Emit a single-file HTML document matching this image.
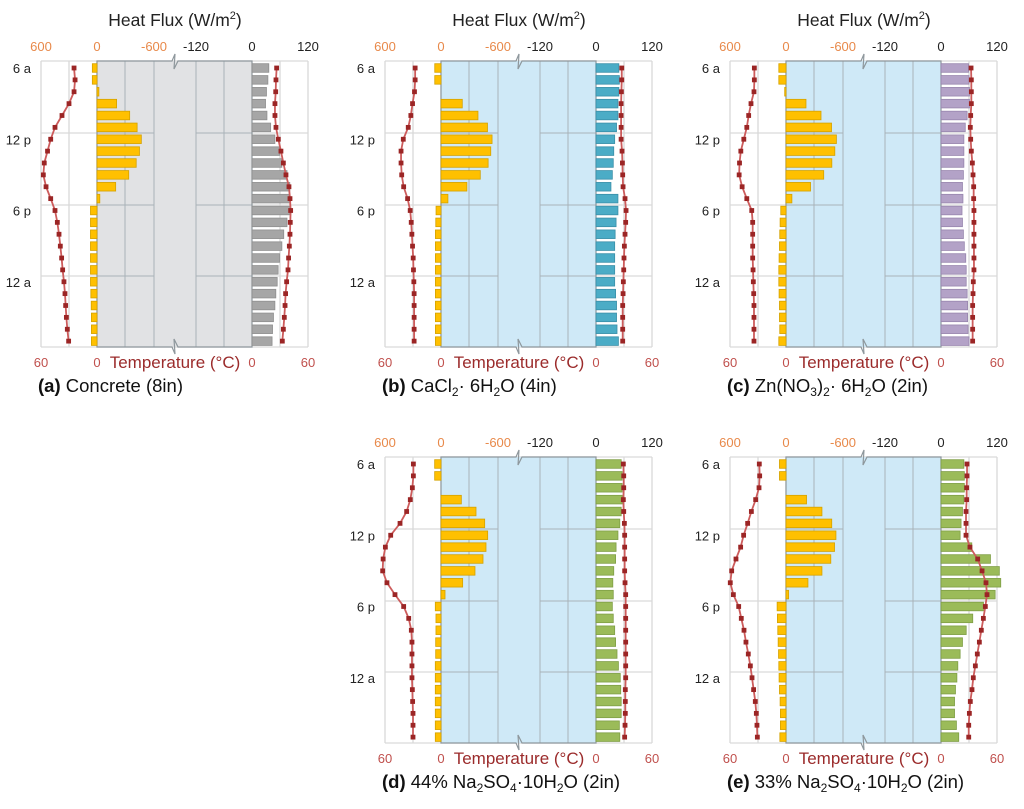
<!DOCTYPE html>
<html><head><meta charset="utf-8"><style>
html,body{margin:0;padding:0;background:#fff;}
svg{display:block;font-family:"Liberation Sans",sans-serif;}
</style></head><body>
<svg id="chart" width="1024" height="809" viewBox="0 0 1024 809" xmlns="http://www.w3.org/2000/svg"></svg>
<script>
const hourLabels = ['6 a','','','','','','12 p','','','','','','6 p','','','','','','12 a','','','','',''];
const topTickFlux = ['600','0','-600','-120','0','120'];
const bottomTickTemp = ['60','0','0','60'];
// (a) Concrete
const outerFluxA = [50,50,-20,-210,-350,-430,-475,-455,-420,-340,-200,-30,70,70,70,70,70,70,70,66,62,60,60,60];
const innerFluxA = [36,34,31,29,32,40,49,59,64,75,81,81,82,75,68,64,59,56,54,51,49,46,44,43];
const outerTempA = [24.6,23.5,24.6,30,37.5,45,49.6,53,56.5,57.5,54.6,49.6,45,42.5,40.7,39.3,37.9,36.8,35.4,34.3,33.6,32.8,31.8,30.4];
const innerTempA = [26.4,25.7,25.4,24.6,24.6,25.7,28.2,31,33.6,36.4,39.6,40.7,41.4,41,40.7,40,39.2,38.6,37.1,36,35.4,34.6,33.6,32.5];
// (b) CaCl2
const outerFluxB = [67,67,0,-228,-396,-498,-547,-533,-505,-421,-277,-74,53,56,60,60,60,60,60,60,60,60,60,60];
const innerFluxB = [49,50,49,47,47,44,40,38,37,35,32,47,47,43,41,40,40,40,40,42,44,44,45,48];
const outerTempB = [27.7,27.7,28.4,30.5,32.3,35.1,40.4,42.8,42.8,42.1,40,35.8,33,31.9,31.2,30.5,29.8,29.5,29.1,28.8,28.8,28.8,28.8,28.8];
const innerTempB = [27.6,27.6,27.2,26.9,26.9,26.9,26.9,27.9,28.3,28.6,29,31.1,32.2,31.8,31.1,30.4,30,29.7,29.3,29,28.6,28.6,28.6,28.6];
// (c) Zn(NO3)2
const outerFluxC = [77,77,14,-214,-375,-488,-540,-523,-491,-404,-263,-63,56,63,67,70,74,77,77,74,70,70,67,77];
const innerFluxC = [59,60,61,61,56,52,49,49,49,48,46,47,45,46,48,50,53,54,54,56,57,57,58,60];
const outerTempC = [33.9,33.9,34.3,37.5,40,42,45.2,48.4,49.8,50.2,47,42,36.7,35.7,35.7,35.7,35.7,35.3,35,34.6,34.3,34.3,34.3,34.3];
const innerTempC = [32.2,32.5,32.5,32.5,31.8,31.4,31.8,32.5,33.6,34.3,35,35,35.3,35.3,35.3,35.3,35.3,35.3,34.6,34.3,33.9,33.9,33.9,33.9];
// (d) 44% Na2SO4
const outerFluxD = [68,68,0,-218,-375,-468,-500,-482,-450,-364,-232,-43,61,54,54,57,57,61,61,61,61,61,61,61];
const innerFluxD = [54,56,56,56,54,51,47,43,42,38,36,37,35,37,40,42,45,48,52,53,54,54,50,51];
const outerTempD = [29.6,29.6,30.7,32.9,36.8,43.9,53.9,59.6,62,62.5,57.9,49.3,40,34.6,31.8,31.1,31.1,31.1,31.1,30.7,30.4,30,30,30];
const innerTempD = [29.3,29.7,29.7,29.3,29.7,30.4,30.7,30.7,30.7,30.7,31.1,31.8,31.8,31.8,31.8,31.8,31.8,31.8,31.8,31.4,31.4,31.4,31.1,30.7];
// (e) 33% Na2SO4
const outerFluxE = [70,70,0,-220,-385,-490,-535,-520,-480,-385,-235,-28,95,92,88,84,80,77,74,70,63,60,60,66];
const innerFluxE = [49,50,50,49,46,43,41,66,106,125,128,116,91,68,54,46,41,36,34,31,29,29,33,38];
const outerTempE = [28.6,28.2,28.9,32.5,37.1,41.1,45.4,48.6,53.6,58.2,59.7,56.4,50.7,47.9,45,42.9,40.4,38.2,36.4,34.7,32.9,31.8,31.1,30.7];
const innerTempE = [27.9,27.9,27.5,27.5,26.8,26.8,26.8,31,39.3,44,48.2,49.3,47.5,45.4,43.2,41.1,38.9,36.8,34.6,33.2,31.4,30.4,29.7,29.7];

const NS='http://www.w3.org/2000/svg';
const svg=document.getElementById('chart');
function mk(tag,attrs,parent){const e=document.createElementNS(NS,tag);for(const k in attrs)e.setAttribute(k,attrs[k]);(parent||svg).appendChild(e);return e;}

const panels=[
 {key:'a',dx:0,dy:0,bg:'#e1e2e4',bar:'#a6a6a6',barS:'#8f8f8f',of:outerFluxA,inf:innerFluxA,ot:outerTempA,it:innerTempA,cap:[['(a)',1],[' Concrete (8in)',0]]},
 {key:'b',dx:344,dy:0,bg:'#cfe9f7',bar:'#4bacc6',barS:'#3a8fa8',of:outerFluxB,inf:innerFluxB,ot:outerTempB,it:innerTempB,cap:[['(b)',1],[' CaCl',0],['2',2],['· 6H',0],['2',2],['O (4in)',0]]},
 {key:'c',dx:689,dy:0,bg:'#cfe9f7',bar:'#b3a2c7',barS:'#9785ad',of:outerFluxC,inf:innerFluxC,ot:outerTempC,it:innerTempC,cap:[['(c)',1],[' Zn(NO',0],['3',2],[')',0],['2',2],['· 6H',0],['2',2],['O (2in)',0]]},
 {key:'d',dx:344,dy:396,bg:'#cfe9f7',bar:'#9bbb59',barS:'#7f9e45',of:outerFluxD,inf:innerFluxD,ot:outerTempD,it:innerTempD,cap:[['(d)',1],[' 44% Na',0],['2',2],['SO',0],['4',2],['·10H',0],['2',2],['O (2in)',0]]},
 {key:'e',dx:689,dy:396,bg:'#cfe9f7',bar:'#9bbb59',barS:'#7f9e45',of:outerFluxE,inf:innerFluxE,ot:outerTempE,it:innerTempE,cap:[['(e)',1],[' 33% Na',0],['2',2],['SO',0],['4',2],['·10H',0],['2',2],['O (2in)',0]]}
];

const X0=41,XO0=97,XB=175,XI0=252,X1=308,Y0=61,Y1=347;
const fluxOuter=v=>XO0-v*56/600;
const fluxInner=v=>XI0+v*56/120;
const tempOuter=t=>XO0-t*56/60;
const tempInner=t=>XI0+t*56/60;
const rowY=i=>68+i*11.875;

panels.forEach(p=>{
  const g=mk('g',{transform:`translate(${p.dx},${p.dy})`});
  
  
  [X0,69,XO0,280,X1].forEach(x=>mk('line',{x1:x,y1:Y0,x2:x,y2:Y1,stroke:'#d9d9d9','stroke-width':1.3},g));
  [Y0,133,205,276,Y1].forEach(y=>mk('line',{x1:X0,y1:y,x2:X1,y2:y,stroke:'#d9d9d9','stroke-width':1.3},g));
  const wall=mk('rect',{x:XO0,y:Y0,width:XI0-XO0,height:Y1-Y0,fill:p.bg},g);
  
  
  [125,154,196,224].forEach(x=>mk('line',{x1:x,y1:Y0,x2:x,y2:Y1,stroke:'#a9b2b8','stroke-width':1},g));
  [133,205,276].forEach(y=>{mk('line',{x1:XO0,y1:y,x2:154,y2:y,stroke:'#a9b2b8','stroke-width':1},g);mk('line',{x1:196,y1:y,x2:XI0,y2:y,stroke:'#a9b2b8','stroke-width':1},g);});
  // border with break zigzags
  mk('path',{d:`M${XO0},${Y1} V${Y0} H${XB-3} L${XB},${Y0-7} L${XB-1},${Y0+8} L${XB+3},${Y0} H${XI0} V${Y1} H${XB+3} L${XB-1},${Y1-8} L${XB},${Y1+7} L${XB-3},${Y1} Z`,fill:'none',stroke:'#8e979c','stroke-width':1.2},g);
  hourLabels.forEach((h,i)=>{ if(!h) return;
    const t=mk('text',{x:31,y:rowY(i)+5,'text-anchor':'end','font-size':13,fill:'#222'},g);t.textContent=h;
    
    
  });
  p.of.forEach((v,i)=>{
    const x1=fluxOuter(v);const xa=Math.min(x1,XO0),w=Math.abs(x1-XO0);
    if(w<0.5) return;
    const r=mk('rect',{x:xa,y:rowY(i)-4.3,width:w,height:8.6,fill:'#ffc000',stroke:'#d4a200','stroke-width':0.8},g);
    
    
  });
  p.inf.forEach((v,i)=>{
    const x1=fluxInner(v);
    const r=mk('rect',{x:XI0,y:rowY(i)-4.3,width:Math.max(0,x1-XI0),height:8.6,fill:p.bar,stroke:p.barS,'stroke-width':0.8},g);
    
    
  });
  [[p.ot,tempOuter,'outer-temperature-line'],[p.it,tempInner,'inner-temperature-line']].forEach(([arr,f,name])=>{
    const pts=arr.map((t,i)=>[f(t),rowY(i)]);
    const pl=mk('polyline',{points:pts.map(q=>q.join(',')).join(' '),fill:'none',stroke:'#cd5c5c','stroke-width':1.8},g);
    
    
    pts.forEach(q=>{
      const m=mk('rect',{x:q[0]-2.4,y:q[1]-2.4,width:4.8,height:4.8,fill:'#9b2525'},g);
      
      
    });
  });
  const topX=[X0,XO0,154,196,XI0,X1];
  topTickFlux.forEach((s,i)=>{
    const t=mk('text',{x:topX[i],y:51,'text-anchor':'middle','font-size':13,fill:i<3?'#e8894a':'#222'},g);t.textContent=s;
    
    
  });
  const bX=[X0,XO0,XI0,X1];
  bottomTickTemp.forEach((s,i)=>{
    const t=mk('text',{x:bX[i],y:367,'text-anchor':'middle','font-size':13,fill:'#c0504d'},g);t.textContent=s;
    
    
  });
  const tt=mk('text',{x:175,y:368,'text-anchor':'middle','font-size':17,fill:'#9b2b2b'},g);tt.textContent='Temperature (°C)';
  
  
  if(p.dy===0){
    const ht=mk('text',{x:175,y:26,'text-anchor':'middle','font-size':17.5,fill:'#222'},g);
    
    
    ht.appendChild(document.createTextNode('Heat Flux (W/m'));
    const sp=mk('tspan',{'font-size':11,dy:-7},ht);sp.textContent='2';
    const sp2=mk('tspan',{dy:7},ht);sp2.textContent=')';
  }
  const cap=mk('text',{x:38,y:392,'font-size':18.5,fill:'#111'},g);
  
  
  let sub=false;
  p.cap.forEach(([s,k])=>{
    const a={};
    if(k===1)a['font-weight']='bold';
    if(k===2){a['font-size']=12;a.dy=4;sub=true;}
    else if(sub){a.dy=-4;sub=false;}
    const sp=mk('tspan',a,cap);sp.textContent=s;
  });
});
</script>
</body></html>
